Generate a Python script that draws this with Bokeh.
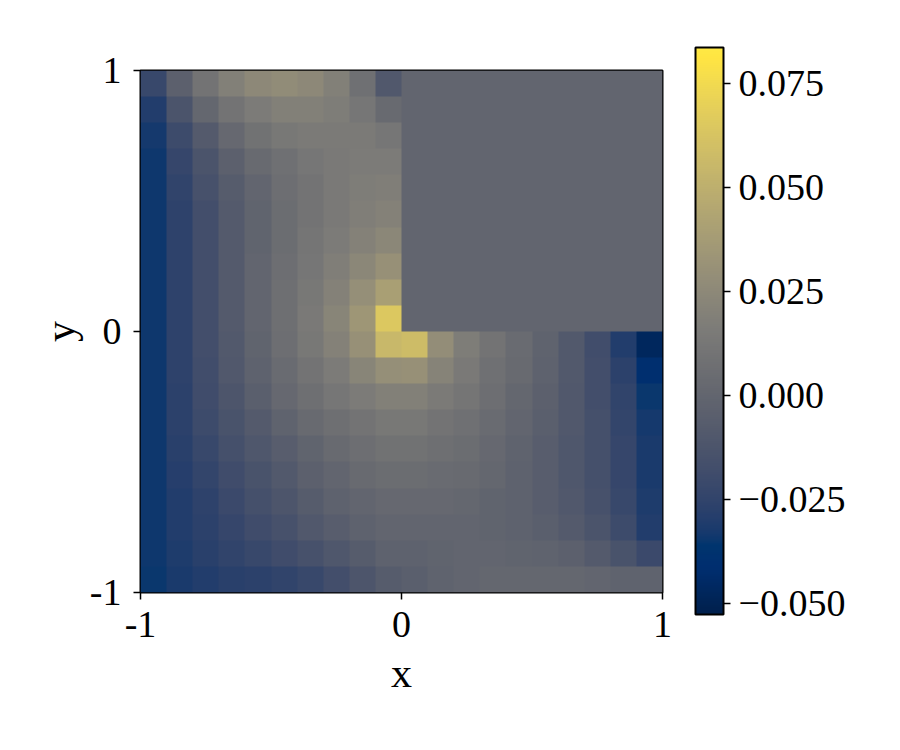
import numpy as np
from bokeh.plotting import figure
from bokeh.models import (LinearColorMapper, FixedTicker, CustomJSTickFormatter, ColorBar)
from bokeh.palettes import Cividis256
from bokeh.embed import file_html
from bokeh.resources import INLINE

# ---------------- data ----------------
# left half of the L-shaped domain, x in [-1, 0], y in [-1, 1]
# rows listed top (y=0.95) to bottom (y=-0.95), columns x=-0.95 ... -0.05
left_half_rows = [
    [-0.022, -0.004, 0.010, 0.019, 0.025, 0.027, 0.025, 0.019, 0.008, -0.010],
    [-0.030, -0.013, 0.001, 0.010, 0.016, 0.019, 0.019, 0.017, 0.012, 0.003],
    [-0.033, -0.020, -0.008, 0.002, 0.009, 0.013, 0.015, 0.015, 0.015, 0.012],
    [-0.034, -0.023, -0.013, -0.004, 0.003, 0.008, 0.012, 0.014, 0.016, 0.016],
    [-0.034, -0.025, -0.015, -0.007, 0.000, 0.006, 0.010, 0.014, 0.017, 0.018],
    [-0.034, -0.026, -0.017, -0.008, -0.001, 0.005, 0.010, 0.014, 0.018, 0.020],
    [-0.034, -0.026, -0.017, -0.008, -0.001, 0.005, 0.011, 0.016, 0.020, 0.024],
    [-0.034, -0.026, -0.017, -0.008, 0.000, 0.006, 0.012, 0.018, 0.024, 0.030],
    [-0.034, -0.026, -0.017, -0.008, 0.000, 0.007, 0.013, 0.020, 0.029, 0.040],
    [-0.034, -0.026, -0.017, -0.008, 0.000, 0.007, 0.014, 0.022, 0.034, 0.065],
    [-0.034, -0.026, -0.017, -0.009, -0.001, 0.006, 0.013, 0.020, 0.030, 0.055],
    [-0.034, -0.026, -0.018, -0.010, -0.003, 0.004, 0.010, 0.016, 0.022, 0.029],
    [-0.034, -0.027, -0.019, -0.012, -0.005, 0.002, 0.007, 0.012, 0.016, 0.019],
    [-0.034, -0.027, -0.020, -0.014, -0.008, -0.002, 0.003, 0.007, 0.010, 0.013],
    [-0.034, -0.028, -0.022, -0.016, -0.011, -0.006, -0.001, 0.003, 0.006, 0.009],
    [-0.034, -0.029, -0.024, -0.019, -0.014, -0.009, -0.004, 0.000, 0.003, 0.005],
    [-0.034, -0.030, -0.026, -0.021, -0.016, -0.012, -0.007, -0.003, 0.000, 0.002],
    [-0.034, -0.030, -0.027, -0.023, -0.019, -0.015, -0.010, -0.006, -0.003, 0.000],
    [-0.034, -0.031, -0.028, -0.025, -0.022, -0.019, -0.015, -0.011, -0.007, -0.003],
    [-0.035, -0.032, -0.030, -0.028, -0.027, -0.025, -0.022, -0.017, -0.012, -0.007],
]

# lower-right quadrant, x in [0, 1], y in [-1, 0]
# rows listed top (y=-0.05) to bottom (y=-0.95), columns x=0.05 ... 0.95
lower_right_rows = [
    [0.058, 0.028, 0.017, 0.010, 0.004, -0.002, -0.009, -0.018, -0.030, -0.047],
    [0.030, 0.021, 0.014, 0.008, 0.003, -0.003, -0.009, -0.017, -0.027, -0.040],
    [0.019, 0.015, 0.011, 0.006, 0.001, -0.004, -0.010, -0.017, -0.025, -0.035],
    [0.013, 0.010, 0.008, 0.004, 0.000, -0.005, -0.010, -0.016, -0.024, -0.033],
    [0.009, 0.007, 0.005, 0.002, -0.002, -0.006, -0.011, -0.016, -0.023, -0.032],
    [0.005, 0.004, 0.003, 0.001, -0.003, -0.006, -0.011, -0.016, -0.023, -0.032],
    [0.002, 0.002, 0.001, -0.001, -0.003, -0.006, -0.010, -0.015, -0.022, -0.031],
    [0.000, 0.000, 0.000, -0.001, -0.003, -0.005, -0.008, -0.013, -0.020, -0.030],
    [-0.003, -0.001, 0.000, 0.000, -0.001, -0.002, -0.004, -0.008, -0.014, -0.021],
    [-0.005, -0.002, 0.000, 0.001, 0.001, 0.001, 0.001, 0.000, -0.002, -0.002],
]

# upper-right quadrant (outside the L) is shown at a constant value
upper_right_value = 0.0

x_ticks = [-1, 0, 1]
y_ticks = [-1, 0, 1]
cbar_ticks = [-0.05, -0.025, 0.0, 0.025, 0.05, 0.075]
cbar_low = -0.0526
cbar_high = 0.0837

# ---------------- assemble the field (one grid over [-1, 1]^2) ----------------
lower_right = np.array(lower_right_rows)
upper_right = np.full(lower_right.shape, upper_right_value)
right_half = np.vstack([upper_right, lower_right])
field = np.flipud(np.hstack([np.array(left_half_rows), right_half]))  # row 0 = bottom

# ---------------- styling ----------------
FONT = "Liberation Serif"
TICK_SIZE = "38px"
LABEL_SIZE = "42px"

mapper = LinearColorMapper(palette=Cividis256, low=cbar_low, high=cbar_high)

p = figure(frame_width=522, frame_height=522, x_range=(-1, 1), y_range=(-1, 1),
           output_backend="svg", toolbar_location=None,
           min_border_left=140, min_border_right=210, min_border_top=70, min_border_bottom=112)

p.image(image=[field], x=-1, y=-1, dw=2, dh=2, color_mapper=mapper)

p.grid.visible = False
p.outline_line_color = "black"
p.outline_line_width = 2
p.outline_line_alpha = 1.0
p.background_fill_color = "white"
p.border_fill_color = "white"

p.xaxis.ticker = FixedTicker(ticks=x_ticks)
p.yaxis.ticker = FixedTicker(ticks=y_ticks)
p.xaxis.axis_label = "x"
p.yaxis.axis_label = "y"
int_fmt = CustomJSTickFormatter(code="return tick.toFixed(0);")
for ax in (p.xaxis[0], p.yaxis[0]):
    ax.formatter = int_fmt
    ax.major_label_text_font = FONT
    ax.major_label_text_font_size = TICK_SIZE
    ax.major_label_text_color = "black"
    ax.axis_label_text_font = FONT
    ax.axis_label_text_font_size = LABEL_SIZE
    ax.axis_label_text_font_style = "normal"
    ax.axis_label_text_color = "black"
    ax.major_tick_out = 7
    ax.major_tick_in = 0
    ax.minor_tick_out = 0
    ax.minor_tick_in = 0
    ax.major_tick_line_width = 1.5
    ax.major_tick_line_color = "black"
    ax.axis_line_color = None
p.xaxis.major_label_standoff = 12
p.xaxis.axis_label_standoff = 10
p.yaxis.major_label_standoff = 12
p.yaxis.axis_label_standoff = 4

# ---------------- colour bar ----------------
cbar = ColorBar(color_mapper=mapper, location=(555, -22), width=28, height=567,
                padding=0, margin=0, orientation="vertical",
                ticker=FixedTicker(ticks=cbar_ticks),
                formatter=CustomJSTickFormatter(
                    code="var s = Math.abs(tick).toFixed(3); return (tick < -1e-9 ? '\u2212' : '') + s;"),
                major_label_text_font=FONT, major_label_text_font_size=TICK_SIZE,
                major_label_text_color="black", label_standoff=8,
                major_tick_in=0, major_tick_out=7, major_tick_line_color="black",
                major_tick_line_width=1.5, minor_tick_line_color=None,
                bar_line_color="black", bar_line_width=2,
                background_fill_color=None, border_line_color=None)
p.add_layout(cbar, "center")

open("out.html", "w").write(file_html(p, INLINE))
